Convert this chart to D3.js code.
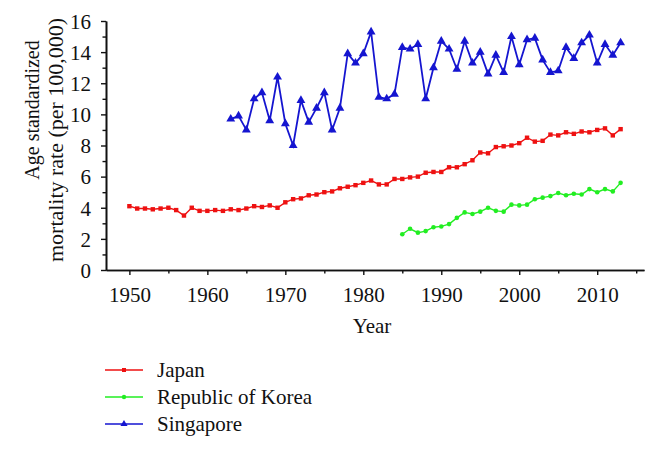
<!DOCTYPE html>
<html><head><meta charset="utf-8">
<script src="https://cdn.jsdelivr.net/npm/d3@7"></script>
<style>body{margin:0;background:#fff}svg{display:block}svg text{font-family:"Liberation Serif","DejaVu Serif",serif;fill:#111}</style>
</head><body><svg id="c" width="666" height="450"></svg>
<script>
const japanYears = d3.range(1950, 2014);
const japanValues = [4.1,3.95,3.95,3.9,3.95,4.0,3.85,3.5,4.0,3.8,3.8,3.85,3.8,3.9,3.85,3.95,4.1,4.05,4.15,4.0,4.35,4.55,4.6,4.8,4.85,5.0,5.05,5.25,5.35,5.45,5.6,5.75,5.5,5.5,5.85,5.85,5.95,6.0,6.25,6.3,6.3,6.6,6.6,6.8,7.05,7.55,7.5,7.9,7.95,8.0,8.15,8.5,8.25,8.3,8.7,8.65,8.85,8.75,8.9,8.85,9.0,9.1,8.65,9.05];
const koreaYears = d3.range(1985, 2014);
const koreaValues = [2.3,2.65,2.4,2.5,2.75,2.8,2.95,3.35,3.7,3.6,3.75,4.0,3.8,3.75,4.2,4.15,4.2,4.55,4.65,4.75,4.95,4.8,4.9,4.85,5.2,5.0,5.2,5.05,5.6];
const singaporeYears = d3.range(1963, 2014);
const singaporeValues = [9.7,9.9,9.0,11.0,11.4,9.6,12.4,9.4,8.0,10.9,9.5,10.4,11.4,9.0,10.4,13.9,13.3,13.9,15.3,11.1,11.0,11.3,14.3,14.2,14.5,11.0,13.0,14.7,14.2,12.9,14.7,13.3,14.0,12.6,13.8,12.7,15.0,13.2,14.8,14.9,13.5,12.7,12.8,14.3,13.6,14.6,15.1,13.3,14.5,13.8,14.6];
const xTicks = [1950,1960,1970,1980,1990,2000,2010];
const yTicks = [0,2,4,6,8,10,12,14,16];
const seriesNames = ["Japan","Republic of Korea","Singapore"];
const seriesColors = ["#ee1111","#22ee22","#1515d0"];

const FONT = "Liberation Serif, DejaVu Serif, serif";
const svg = d3.select("#c").attr("font-family", FONT);
const x = d3.scaleLinear().domain([1947, 2016]).range([106, 644]);
const y = d3.scaleLinear().domain([0, 16]).range([270, 21]);

const xAxis = svg.append("g").attr("transform","translate(0,270)")
  .call(d3.axisBottom(x).tickValues(xTicks).tickFormat(d3.format("d")).tickSize(5).tickSizeOuter(0));
svg.append("g").attr("transform","translate(0,270)")
  .call(d3.axisBottom(x).tickValues(d3.range(1955,2016,10)).tickFormat("").tickSize(3.5).tickSizeOuter(0));
const yAxis = svg.append("g").attr("transform","translate(106,0)")
  .call(d3.axisLeft(y).tickValues(yTicks).tickSize(5).tickSizeOuter(0));
svg.append("g").attr("transform","translate(106,0)")
  .call(d3.axisLeft(y).tickValues(d3.range(1,16,2)).tickFormat("").tickSize(3.5).tickSizeOuter(0));
svg.selectAll("g").attr("font-family", FONT);
svg.selectAll(".domain").attr("stroke","#111").attr("stroke-width",1.6);
svg.selectAll(".tick line").attr("stroke","#111").attr("stroke-width",1.4);
xAxis.selectAll("text").attr("font-size",21).attr("y",13).attr("dy","0.9em");
yAxis.selectAll("text").attr("font-size",21).attr("x",-15).attr("dy","0.35em");

svg.append("text").attr("x",372).attr("y",333).attr("text-anchor","middle").attr("font-size",21).text("Year");
svg.append("text").attr("transform","translate(39,110) rotate(-90)").attr("text-anchor","middle").attr("font-size",20)
  .text("Age standardized");
svg.append("text").attr("transform","translate(63,140) rotate(-90)").attr("text-anchor","middle").attr("font-size",20)
  .attr("textLength",244).attr("lengthAdjust","spacingAndGlyphs").text("mortality rate (per 100,000)");

const data = [
  {years: japanYears, values: japanValues},
  {years: koreaYears, values: koreaValues},
  {years: singaporeYears, values: singaporeValues}
];
const line = d3.line().x(d => x(d[0])).y(d => y(d[1]));
const tri = d3.symbol().type(d3.symbolTriangle).size(34);

data.forEach((s, i) => {
  const pts = s.years.map((yr, k) => [yr, s.values[k]]);
  const g = svg.append("g");
  g.append("path").datum(pts).attr("d", line).attr("fill","none")
    .attr("stroke", seriesColors[i]).attr("stroke-width", i === 2 ? 1.8 : 1.4);
  if (i === 0) {
    g.selectAll("rect").data(pts).join("rect")
      .attr("x", d => x(d[0]) - 2.2).attr("y", d => y(d[1]) - 2.2)
      .attr("width",4.4).attr("height",4.4).attr("fill", seriesColors[i]);
  } else if (i === 1) {
    g.selectAll("circle").data(pts).join("circle")
      .attr("cx", d => x(d[0])).attr("cy", d => y(d[1])).attr("r",2.3).attr("fill", seriesColors[i]);
  } else {
    g.selectAll("path.m").data(pts).join("path").attr("class","m")
      .attr("d", tri).attr("transform", d => `translate(${x(d[0])},${y(d[1])})`).attr("fill", seriesColors[i]);
  }
});

const legY = [370, 397, 424];
seriesNames.forEach((n, i) => {
  const g = svg.append("g");
  g.append("line").attr("x1",105).attr("x2",143).attr("y1",legY[i]).attr("y2",legY[i])
    .attr("stroke", seriesColors[i]).attr("stroke-width",1.5);
  if (i === 0) g.append("rect").attr("x",122).attr("y",legY[i]-2).attr("width",4).attr("height",4).attr("fill",seriesColors[i]);
  else if (i === 1) g.append("circle").attr("cx",124).attr("cy",legY[i]).attr("r",2.2).attr("fill",seriesColors[i]);
  else g.append("path").attr("d", d3.symbol().type(d3.symbolTriangle).size(22)).attr("transform",`translate(124,${legY[i]})`).attr("fill",seriesColors[i]);
  g.append("text").attr("x",157).attr("y",legY[i]+7).attr("font-size",21).text(n);
});
</script></body></html>
